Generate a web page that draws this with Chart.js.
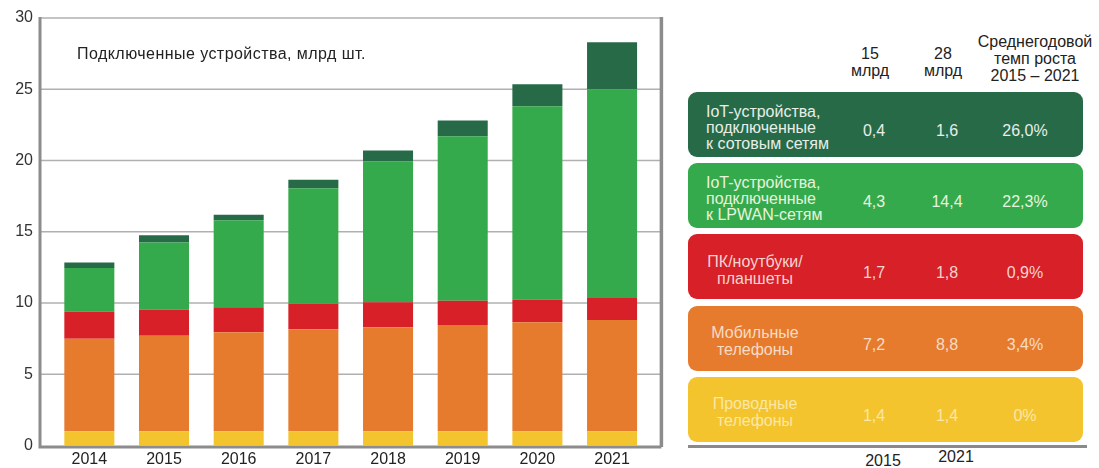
<!DOCTYPE html>
<html lang="ru">
<head>
<meta charset="utf-8">
<title>Подключенные устройства</title>
<script src="https://cdn.jsdelivr.net/npm/chart.js@4.4.1/dist/chart.umd.min.js"></script>
<style>
  html, body { margin: 0; padding: 0; background: #fff; }
  body { width: 1099px; height: 468px; position: relative; overflow: hidden; font-family: "Liberation Sans", Arial, sans-serif; color: #222; }
  #chartBox { position: absolute; left: 0; top: 0; width: 680px; height: 468px; }
  #caption { position: absolute; left: 77px; top: 45px; font-size: 16px; letter-spacing: 0.45px; line-height: 17px; color: #222; white-space: nowrap; }
  .hdr { position: absolute; text-align: center; font-size: 16px; line-height: 17px; color: #222; transform: translateX(-50%); white-space: pre; }
  .row { position: absolute; left: 688px; width: 395px; height: 65px; border-radius: 9px; }
  .lbl { position: absolute; top: 50%; font-size: 16px; white-space: pre; }
  .val { position: absolute; font-size: 16px; line-height: 17px; transform: translate(-50%, -50%); white-space: nowrap; }
  #baseLine { position: absolute; left: 688px; top: 445px; width: 399px; height: 3px; background: #8a8a8a; }
</style>
</head>
<body>
<div id="chartBox"><canvas id="chart"></canvas></div>
<div id="caption">Подключенные устройства, млрд шт.</div>
<div id="table"></div>
<div id="baseLine"></div>
<script>
'use strict';

// ************************* DATA **********************************
const years = ['2014', '2015', '2016', '2017', '2018', '2019', '2020', '2021'];
const wiredPhones = [1.0, 1.0, 1.0, 1.0, 1.0, 1.0, 1.0, 1.0];
const mobilePhones = [6.5, 6.7, 6.95, 7.15, 7.3, 7.45, 7.65, 7.8];
const pcLaptops = [1.9, 1.85, 1.75, 1.8, 1.75, 1.7, 1.6, 1.55];
const iotLpwan = [3.05, 4.7, 6.1, 8.1, 9.9, 11.55, 13.55, 14.65];
const iotCellular = [0.4, 0.5, 0.4, 0.6, 0.75, 1.1, 1.55, 3.3];
const yTicks = [0, 5, 10, 15, 20, 25, 30];

const rowNames = [
  'IoT-устройства,\nподключенные\nк сотовым сетям',
  'IoT-устройства,\nподключенные\nк LPWAN-сетям',
  'ПК/ноутбуки/\nпланшеты',
  'Мобильные\nтелефоны',
  'Проводные\nтелефоны'
];
const values2015 = ['0,4', '4,3', '1,7', '7,2', '1,4'];
const values2021 = ['1,6', '14,4', '1,8', '8,8', '1,4'];
const growthRates = ['26,0%', '22,3%', '0,9%', '3,4%', '0%'];
const headers = ['15\nмлрд', '28\nмлрд', 'Среднегодовой\nтемп роста\n2015 – 2021'];
const footers = ['2015', '2021'];

// ************************* STYLES **********************************
const barColors = ['#f4c42e', '#e67b2e', '#d72028', '#35aa4c', '#276a48'];
const rowColors = ['#276a48', '#35aa4c', '#d72028', '#e67b2e', '#f4c42e'];
const rowTextColors = ['#e8eee8', '#e6f4de', '#f6d4d0', '#f8dcc4', '#fbe7a6'];

// ************************* CHART **********************************
const framePlugin = {
  id: 'frame',
  beforeDatasetsDraw(chart) {
    const { ctx, chartArea, scales: { y } } = chart;
    const left = chartArea.left - 12;
    const right = chartArea.right + 12;
    ctx.save();
    ctx.strokeStyle = '#b0b0b0';
    ctx.lineWidth = 1.5;
    for (const v of yTicks) {
      if (v === 0) continue;
      const py = y.getPixelForValue(v);
      ctx.beginPath();
      ctx.moveTo(left, py);
      ctx.lineTo(right, py);
      ctx.stroke();
    }
    ctx.restore();
  },
  afterDatasetsDraw(chart) {
    const { ctx, chartArea, scales: { y } } = chart;
    const left = chartArea.left - 12;
    const right = chartArea.right + 12;
    const top = y.getPixelForValue(yTicks[yTicks.length - 1]);
    const bottom = y.getPixelForValue(0);
    ctx.save();
    ctx.strokeStyle = '#8c8c8c';
    ctx.lineWidth = 3;
    ctx.beginPath();
    ctx.moveTo(left, top - 1);
    ctx.lineTo(left, bottom + 1.5);
    ctx.lineTo(right, bottom + 1.5);
    ctx.stroke();
    ctx.lineWidth = 3.5;
    ctx.beginPath();
    ctx.moveTo(right, top - 1);
    ctx.lineTo(right, bottom + 1.5);
    ctx.stroke();
    ctx.restore();
  }
};

const seriesList = [wiredPhones, mobilePhones, pcLaptops, iotLpwan, iotCellular];

new Chart(document.getElementById('chart'), {
  type: 'bar',
  data: {
    labels: years,
    datasets: seriesList.map((values, i) => ({
      label: rowNames[4 - i].replace(/\n/g, ' '),
      data: values,
      backgroundColor: barColors[i],
      borderWidth: 0,
      barPercentage: 0.67,
      categoryPercentage: 1
    }))
  },
  options: {
    responsive: true,
    maintainAspectRatio: false,
    animation: false,
    layout: { padding: { top: 18, right: 30.6, bottom: 0, left: 0 } },
    plugins: { legend: { display: false }, tooltip: { enabled: false } },
    scales: {
      x: {
        stacked: true,
        grid: { display: false, drawTicks: false },
        border: { display: false },
        ticks: { color: '#222', font: { family: 'Liberation Sans', size: 16 }, padding: 4, maxRotation: 0 },
        afterFit: (s) => { s.height = 22.5; }
      },
      y: {
        stacked: true,
        min: 0,
        max: 30,
        grid: { display: false, drawTicks: false },
        border: { display: false },
        ticks: { stepSize: 5, color: '#333', font: { family: 'Liberation Sans', size: 16 }, padding: 19 },
        afterFit: (s) => { s.width = 52; s.paddingTop = 0; s.paddingBottom = 0; }
      }
    }
  },
  plugins: [framePlugin]
});

// ************************* TABLE **********************************
const tableBox = document.getElementById('table');
const valueCenters = [186, 259, 337];
const headerCenters = [870, 943, 1035];
const headerTops = [45, 45, 33];

headers.forEach((text, i) => {
  const el = document.createElement('div');
  el.className = 'hdr';
  el.textContent = text;
  el.style.left = headerCenters[i] + 'px';
  el.style.top = headerTops[i] + 'px';
  tableBox.appendChild(el);
});

rowNames.forEach((name, i) => {
  const row = document.createElement('div');
  row.className = 'row';
  row.style.top = (92 + i * 71.2) + 'px';
  row.style.background = rowColors[i];
  row.style.color = rowTextColors[i];

  const lbl = document.createElement('div');
  lbl.className = 'lbl';
  lbl.textContent = name;
  const lines = name.split('\n').length;
  lbl.style.lineHeight = (lines > 2 ? 16 : 17) + 'px';
  if (i < 2) {
    lbl.style.left = '18px';
    lbl.style.textAlign = 'left';
    lbl.style.transform = 'translateY(-50%)';
  } else {
    lbl.style.left = '67px';
    lbl.style.textAlign = 'center';
    lbl.style.transform = 'translate(-50%, -50%)';
  }
  lbl.style.marginTop = '3px';
  row.appendChild(lbl);

  [values2015[i], values2021[i], growthRates[i]].forEach((v, j) => {
    const el = document.createElement('div');
    el.className = 'val';
    el.textContent = v;
    el.style.left = valueCenters[j] + 'px';
    el.style.top = '38px';
    row.appendChild(el);
  });
  tableBox.appendChild(row);
});

footers.forEach((text, i) => {
  const el = document.createElement('div');
  el.className = 'hdr';
  el.textContent = text;
  el.style.left = (i === 0 ? 883 : 956) + 'px';
  el.style.top = (i === 0 ? 452 : 448) + 'px';
  tableBox.appendChild(el);
});
</script>
</body>
</html>
